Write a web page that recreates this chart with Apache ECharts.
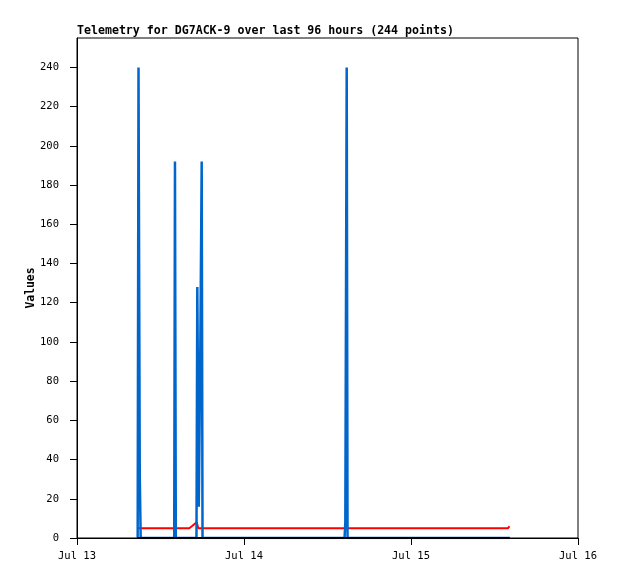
<!DOCTYPE html>
<html>
<head>
<meta charset="utf-8">
<script src="https://cdn.jsdelivr.net/npm/echarts@6/dist/echarts.min.js"></script>
<style>
html,body{margin:0;padding:0;background:#fff;}
#chart{width:618px;height:579px;}
</style>
</head>
<body>
<div id="chart"></div>
<script>
// x values are hours after Jul 13 00:00
const xTickLabels = ['Jul 13', 'Jul 14', 'Jul 15', 'Jul 16'];
const yTickValues = [0, 20, 40, 60, 80, 100, 120, 140, 160, 180, 200, 220, 240];

const blueHours  = [8.72, 8.84, 9.02, 9.15, 13.97, 14.08, 14.2, 17.17, 17.29, 17.5, 17.72, 17.92, 18.04, 38.45, 38.56, 38.76, 38.88, 62.2];
const blueValues = [0, 240, 32, 0, 0, 192, 0, 0, 128, 16, 96, 192, 0, 0, 8, 240, 0, 0];

const redHours  = [8.67, 13.96, 14.18, 14.4, 16.14, 16.5, 16.85, 17.2, 17.43, 30.3, 30.5, 30.7, 61.95, 62.15];
const redValues = [5, 5, 6, 5, 5, 6, 7, 8, 5, 5, 6, 5, 5, 6];

const blackHours  = [8.67, 62.2];
const blackValues = [0, 0];

function pairs(xs, ys) { return xs.map((x, i) => [x, ys[i]]); }

const chart = echarts.init(document.getElementById('chart'), null, {renderer: 'canvas'});
const mono = 'DejaVu Sans Mono';
chart.setOption({
  animation: false,
  backgroundColor: '#fff',
  title: {
    text: 'Telemetry for DG7ACK-9 over last 96 hours (244 points)',
    left: 77, top: 25, padding: 0,
    textStyle: {fontFamily: mono, fontWeight: 'bold', fontSize: 11.6, color: '#000'}
  },
  grid: {left: 77, right: 40, top: 38, bottom: 41, show: true, borderColor: '#000', borderWidth: 1, backgroundColor: 'transparent'},
  xAxis: {
    type: 'value', min: 0, max: 72, interval: 24,
    axisLine: {lineStyle: {color: '#000', width: 1}},
    axisTick: {show: true, length: 7, lineStyle: {color: '#000'}},
    splitLine: {show: false},
    axisLabel: {
      margin: 13, color: '#000', fontFamily: mono, fontSize: 10.5,
      formatter: v => xTickLabels[Math.round(v / 24)]
    }
  },
  yAxis: {
    type: 'value', min: 0, max: 255, interval: 20,
    name: 'Values', nameLocation: 'middle', nameGap: 40, nameRotate: 90, nameMoveOverlap: false,
    nameTextStyle: {fontFamily: mono, fontWeight: 'bold', fontSize: 11.4, color: '#000'},
    axisLine: {show: true, lineStyle: {color: '#000', width: 1}},
    axisTick: {show: true, length: 7, lineStyle: {color: '#000'}, customValues: yTickValues},
    splitLine: {show: false},
    axisLabel: {margin: 18, color: '#000', fontFamily: mono, fontSize: 10.5, customValues: yTickValues}
  },
  series: [
    {type: 'line', data: pairs(redHours, redValues), showSymbol: false, symbol: 'none',
     lineStyle: {color: '#ff0000', width: 2}, itemStyle: {color: '#ff0000'}},
    {type: 'line', data: pairs(blueHours, blueValues), showSymbol: false, symbol: 'none',
     lineStyle: {color: '#0066cc', width: 2.5}, itemStyle: {color: '#0066cc'}},
    {type: 'line', data: pairs(blackHours, blackValues), showSymbol: false, symbol: 'none',
     lineStyle: {color: '#000000', width: 2}, itemStyle: {color: '#000000'}}
  ]
});
</script>
</body>
</html>
